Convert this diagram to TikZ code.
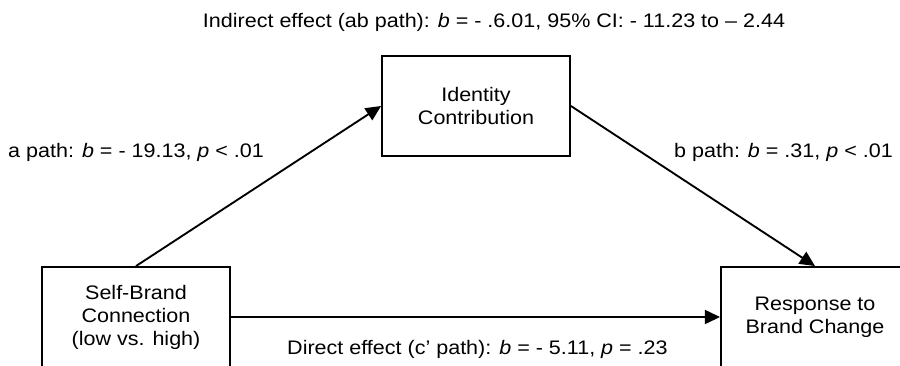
\documentclass[tikz,border=0pt]{standalone}
\usepackage{fontspec}
\setmainfont{Liberation Sans}[FakeStretch=1.1]
\usetikzlibrary{positioning, arrows.meta}

\tikzset{
  var/.style={rectangle, draw, line width=1.6pt, minimum width=5.64cm, minimum height=3cm, align=center, font=\fontsize{16.7}{19.6}\selectfont},
  pathlabel/.style={font=\fontsize{16.7}{19.6}\selectfont, inner sep=0pt},
  effect/.style={-{Triangle[length=13pt, width=12pt]}, line width=1.6pt}
}

\begin{document}
\begin{tikzpicture}[x=0.03cm, y=-0.03cm]
    \useasboundingbox (0,0) rectangle (900,365);

    \node[var] (sbc) at (136, 317) {Self-Brand\\Connection\\(low vs. high)};
    \node[var] (ic) at (476, 106) {Identity\\Contribution};
    \node[var] (rbc) at (815, 317) {Response to\\Brand Change};

    \draw[effect] (sbc.north) -- (ic.west);
    \draw[effect] (ic.east) -- (rbc.north);
    \draw[effect] (sbc.east) -- (rbc.west);

    \node[pathlabel, anchor=base] (ab) at (494, 27) {Indirect effect (ab path): \textit{b} = - .6.01, 95\% CI: - 11.23 to – 2.44};
    \node[pathlabel, anchor=base west] (a) at (8, 157) {a path: \textit{b} = - 19.13, \textit{p} < .01};
    \node[pathlabel, anchor=base east] (b) at (893, 157) {b path: \textit{b} = .31, \textit{p} < .01};
    \node[pathlabel, anchor=base west] (c) at (287, 354) {Direct effect (c’ path): \textit{b} = - 5.11, \textit{p} = .23};
\end{tikzpicture}
\end{document}
